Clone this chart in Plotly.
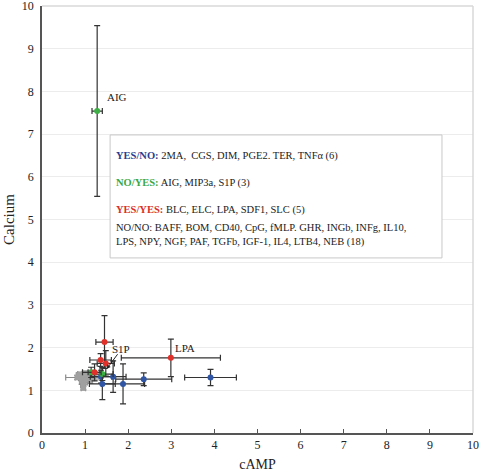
import plotly.graph_objects as go

# YES/NO (blue)
yn_x = [1.37, 1.65, 2.36, 1.40, 1.88, 3.91]
yn_y = [1.32, 1.32, 1.26, 1.15, 1.15, 1.30]
yn_xerr = [0.25, 0.30, 0.65, 0.30, 0.50, 0.60]
yn_yerr = [0.15, 0.37, 0.15, 0.37, 0.47, 0.19]

# NO/YES (green)
ny_x = [1.28, 1.14, 1.40]
ny_y = [7.54, 1.42, 1.38]
ny_xerr = [0.12, 0.20, 0.25]
ny_yerr = [2.00, 0.12, 0.15]

# YES/YES (red)
yy_x = [1.45, 1.36, 1.48, 2.99, 1.22]
yy_y = [2.13, 1.71, 1.63, 1.76, 1.42]
yy_xerr = [0.20, 0.25, 0.20, 1.15, 0.15]
yy_yerr = [0.62, 0.15, 0.30, 0.44, 0.20]

# NO/NO (grey)
nn_x = [0.85, 0.90, 0.95, 1.00, 1.05, 0.92, 0.98, 0.95, 1.02, 1.10,
        1.15, 0.88, 1.08, 1.20, 0.82, 1.00, 0.96, 1.12]
nn_y = [1.35, 1.30, 1.28, 1.33, 1.30, 1.22, 1.18, 1.12, 1.25, 1.32,
        1.28, 1.38, 1.36, 1.30, 1.30, 1.40, 1.05, 1.22]
nn_xerr = [0.05, 0.35, 0.10, 0.08, 0.06, 0.05, 0.07, 0.05, 0.10, 0.08,
           0.06, 0.05, 0.07, 0.10, 0.05, 0.06, 0.05, 0.05]
nn_yerr = [0.05, 0.05, 0.06, 0.04, 0.05, 0.08, 0.05, 0.04, 0.05, 0.06,
           0.05, 0.04, 0.05, 0.06, 0.05, 0.05, 0.04, 0.06]

legend_lines = [
    ("YES/NO:", "#2b3d8f", " 2MA,  CGS, DIM, PGE2. TER, TNFα (6)"),
    ("NO/YES:", "#3aa845", " AIG, MIP3a, S1P (3)"),
    ("YES/YES:", "#d9302a", " BLC, ELC, LPA, SDF1, SLC (5)"),
    ("NO/NO:", "#222222", " BAFF, BOM, CD40, CpG, fMLP. GHR, INGb, INFg, IL10,<br>LPS, NPY, NGF, PAF, TGFb, IGF-1, IL4, LTB4, NEB (18)"),
]
legend_y = [6.49, 5.85, 5.22, 4.64]

x_ticks = list(range(0, 11))
y_ticks = list(range(0, 11))

FONT = "Liberation Serif, Times New Roman, serif"
ERR = "#333333"

fig = go.Figure()


def add_series(xs, ys, xe, ye, color, symbol="circle", size=6, errc=ERR):
    fig.add_trace(go.Scatter(
        x=xs, y=ys, mode="markers",
        marker=dict(color=color, size=size, symbol=symbol),
        error_x=dict(type="data", array=xe, color=errc, thickness=1.2, width=3),
        error_y=dict(type="data", array=ye, color=errc, thickness=1.2, width=3),
        showlegend=False,
    ))


add_series(nn_x, nn_y, nn_xerr, nn_yerr, "#a0a0a0", symbol="square", size=5, errc="#8a8a8a")
add_series(yn_x, yn_y, yn_xerr, yn_yerr, "#2f55a4")
add_series(ny_x, ny_y, ny_xerr, ny_yerr, "#3cb043")
add_series(yy_x, yy_y, yy_xerr, yy_yerr, "#e0302a")

# legend box
fig.add_shape(type="rect", x0=1.58, x1=9.28, y0=4.10, y1=6.98,
              line=dict(color="#c8c8c8", width=1), fillcolor="white", layer="above")
for (lab, col, rest), yv in zip(legend_lines, legend_y):
    bold = lab != "NO/NO:"
    labtxt = f"<b>{lab}</b>" if bold else lab
    fig.add_annotation(x=1.67, y=yv, xanchor="left", yanchor="middle", align="left",
                       text=f"<span style='color:{col}'>{labtxt}</span>{rest}",
                       showarrow=False, font=dict(family=FONT, size=10.5, color="#222"))

# point labels
fig.add_annotation(x=1.45, y=7.87, text="AIG", xanchor="left", showarrow=False,
                   font=dict(family=FONT, size=11, color="#222"))
fig.add_annotation(x=3.03, y=1.99, text="LPA", xanchor="left", showarrow=False,
                   font=dict(family=FONT, size=11, color="#222"))
fig.add_annotation(x=1.50, y=1.50, ax=1.78, ay=1.88, axref="x", ayref="y",
                   text="", showarrow=True, arrowhead=2, arrowsize=0.8,
                   arrowwidth=1, arrowcolor="#222")
fig.add_annotation(x=1.58, y=1.96, text="S1P", xanchor="left", showarrow=False,
                   font=dict(family=FONT, size=11, color="#222"))

# top/right light border
fig.add_shape(type="line", xref="paper", yref="paper", x0=0, x1=1, y0=1, y1=1,
              line=dict(color="#d8d8d8", width=1.5))
fig.add_shape(type="line", xref="paper", yref="paper", x0=1, x1=1, y0=0, y1=1,
              line=dict(color="#d8d8d8", width=1.5))

fig.update_layout(
    width=481, height=476,
    margin=dict(l=42, r=8, t=6, b=43),
    paper_bgcolor="white", plot_bgcolor="white",
    font=dict(family=FONT, size=11, color="#222"),
    xaxis=dict(range=[0, 10], tickvals=x_ticks, showgrid=False, zeroline=False,
               showline=True, linecolor="#555", linewidth=1.5, automargin=False,
               ticks="inside", ticklen=4, tickcolor="#555", ticklabeloverflow="allow",
               tickfont=dict(family=FONT, size=12),
               title=dict(text="cAMP", font=dict(family=FONT, size=14), standoff=8)),
    yaxis=dict(range=[0, 10], tickvals=y_ticks, showgrid=True, gridcolor="#ececec",
               zeroline=False, showline=True, linecolor="#555", linewidth=1.5,
               ticks="", ticklabelstandoff=4, automargin=False, ticklabeloverflow="allow",
               tickfont=dict(family=FONT, size=12),
               title=dict(text="Calcium", font=dict(family=FONT, size=15), standoff=4)),
)

fig.write_html("out.html", config={"displayModeBar": False},
               post_script="document.body.style.margin='0';document.body.style.overflow='hidden';")
